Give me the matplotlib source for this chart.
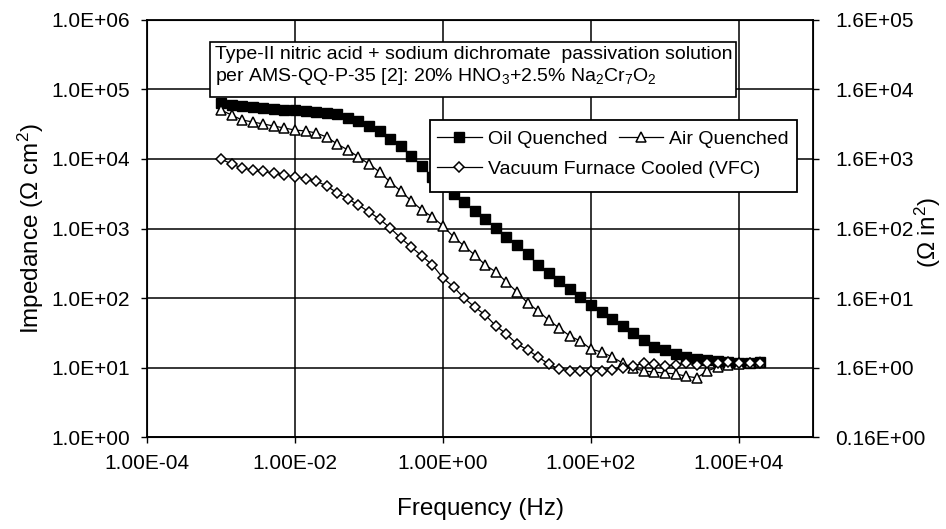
import matplotlib.pyplot as plt
from matplotlib.patches import Rectangle
from matplotlib.ticker import NullLocator

plt.rcParams['font.family'] = ['Liberation Sans', 'DejaVu Sans']
plt.rcParams['mathtext.default'] = 'regular'

# frequencies of the sweep (Hz), 7 points per decade
freq = [1.00e-3, 1.39e-3, 1.93e-3, 2.68e-3, 3.73e-3, 5.18e-3, 7.20e-3,
        1.00e-2, 1.39e-2, 1.93e-2, 2.68e-2, 3.73e-2, 5.18e-2, 7.20e-2,
        1.00e-1, 1.39e-1, 1.93e-1, 2.68e-1, 3.73e-1, 5.18e-1, 7.20e-1,
        1.00e0, 1.39e0, 1.93e0, 2.68e0, 3.73e0, 5.18e0, 7.20e0,
        1.00e1, 1.39e1, 1.93e1, 2.68e1, 3.73e1, 5.18e1, 7.20e1,
        1.00e2, 1.39e2, 1.93e2, 2.68e2, 3.73e2, 5.18e2, 7.20e2,
        1.00e3, 1.39e3, 1.93e3, 2.68e3, 3.73e3, 5.18e3, 7.20e3,
        1.00e4, 1.39e4, 1.93e4]

# impedance (ohm cm2)
oil = [64000, 59900, 57900, 56000, 54200, 52400, 51500, 50700, 49100, 47500,
       45900, 43700, 38900, 35200, 29800, 25300, 19400, 15400, 11000, 7930,
       5510, 4090, 3140, 2410, 1790, 1370, 1020, 755, 580, 430,
       299, 229, 176, 135, 103, 79, 63, 50, 39.6, 31.3,
       24.9, 19.7, 17.9, 15.6, 14.2, 13.2, 12.8, 12.4, 12.0, 11.6, 11.6, 12.0]
air = [50700, 42900, 36400, 34100, 31900, 29800, 27900, 26100, 25300, 23700,
       20700, 16400, 13500, 10700, 8470, 6500, 4670, 3470, 2490, 1850,
       1460, 1090, 755, 560, 416, 299, 237, 170, 122, 85,
       65, 48, 37, 28.4, 24.0, 18.4, 16.7, 14.2, 11.6, 9.8,
       8.9, 8.6, 8.3, 8.1, 7.5, 7.1, 8.9, 10.2, 10.9, 11.2, 11.6, 12.0]
vfc = [10000, 8470, 7430, 6950, 6610, 6290, 5890, 5510, 5240, 4820,
       4090, 3250, 2660, 2180, 1730, 1370, 1020, 730, 542, 402,
       299, 194, 144, 100, 74, 57, 39.6, 30.4, 21.8, 17.9,
       14.2, 11.2, 9.5, 8.9, 8.9, 8.9, 8.9, 9.2, 9.8, 10.5,
       11.6, 11.2, 10.5, 10.9, 11.6, 10.9, 11.6, 11.6, 12.0, 11.6, 11.6, 11.6]

x_ticks = [1e-4, 1e-2, 1e0, 1e2, 1e4]
x_labels = ["1.00E-04", "1.00E-02", "1.00E+00", "1.00E+02", "1.00E+04"]
y_ticks = [1e0, 1e1, 1e2, 1e3, 1e4, 1e5, 1e6]
y_labels = ["1.0E+00", "1.0E+01", "1.0E+02", "1.0E+03", "1.0E+04", "1.0E+05", "1.0E+06"]
y2_labels = ["0.16E+00", "1.6E+00", "1.6E+01", "1.6E+02", "1.6E+03", "1.6E+04", "1.6E+05"]

fig = plt.figure(figsize=(9.46, 5.29), dpi=100)
ax = fig.add_axes([0.1554, 0.1739, 0.704, 0.7883])

h_oil, = ax.plot(freq, oil, '-s', color='black', lw=0.9, ms=6.5,
                 mfc='black', mec='black', label='Oil Quenched')
h_air, = ax.plot(freq, air, '-^', color='black', lw=0.9, ms=7,
                 mfc='white', mec='black', mew=1.1, label='Air Quenched')
h_vfc, = ax.plot(freq, vfc, '-D', color='black', lw=0.9, ms=5.3,
                 mfc='white', mec='black', mew=1.1,
                 label='Vacuum Furnace Cooled (VFC)')

ax.set_xscale('log')
ax.set_yscale('log')
ax.set_xlim(1e-4, 1e5)
ax.set_ylim(1, 1e6)
ax.set_xticks(x_ticks, x_labels)
ax.set_yticks(y_ticks, y_labels)
ax.xaxis.set_minor_locator(NullLocator())
ax.yaxis.set_minor_locator(NullLocator())
ax.grid(True, color='black', lw=1.1)
ax.tick_params(direction='out', length=4, width=1, labelsize=15, pad=8)
for s in ax.spines.values():
    s.set_linewidth(1.3)

ax.set_xlabel('Frequency (Hz)', fontsize=17.5)
ax.xaxis.set_label_coords(0.5, -0.172)
ax.xaxis.label.set_verticalalignment('center')
ax.set_ylabel('Impedance (Ω cm$^2$)', fontsize=17.5)
ax.yaxis.set_label_coords(-0.174, 0.5)
ax.yaxis.label.set_verticalalignment('center')

ax2 = ax.twinx()
ax2.set_yscale('log')
ax2.set_ylim(1, 1e6)
ax2.set_yticks(y_ticks, y2_labels)
ax2.yaxis.set_minor_locator(NullLocator())
ax2.tick_params(direction='out', length=4, width=1, labelsize=15, pad=12)
ax2.set_ylabel('(Ω in$^2$)', fontsize=17.5)
ax2.yaxis.set_label_coords(1.172, 0.489)
ax2.yaxis.label.set_verticalalignment('center')

# annotation box
box = Rectangle((0.0946, 0.8153), 0.790, 0.1319, transform=ax.transAxes,
                fc='white', ec='black', lw=1.2, zorder=5)
ax.add_artist(box)
ax.text(0.1021, 0.9376,
        "Type-II nitric acid + sodium dichromate  passivation solution\n"
        "per AMS-QQ-P-35 [2]: 20% HNO$_3$+2.5% Na$_2$Cr$_7$O$_2$",
        transform=ax.transAxes, ha='left', va='top', fontsize=14,
        linespacing=1.22, zorder=6)

# legend: two rows inside one frame
frame = Rectangle((0.425, 0.588), 0.551, 0.172, transform=ax.transAxes,
                  fc='white', ec='black', lw=1.3, zorder=4)
ax.add_artist(frame)
leg_kw = dict(loc='upper left', frameon=False, fontsize=14, handlelength=2.3,
              handletextpad=0.3, columnspacing=0.6, borderpad=0,
              borderaxespad=0, numpoints=1)
leg1 = ax.legend(handles=[h_oil, h_air], ncol=2, bbox_to_anchor=(0.4354, 0.736), **leg_kw)
leg1.set_zorder(5)
ax.add_artist(leg1)
leg2 = ax.legend(handles=[h_vfc], bbox_to_anchor=(0.4354, 0.664), **leg_kw)
leg2.set_zorder(5)

fig.savefig('out.png', dpi=100)
